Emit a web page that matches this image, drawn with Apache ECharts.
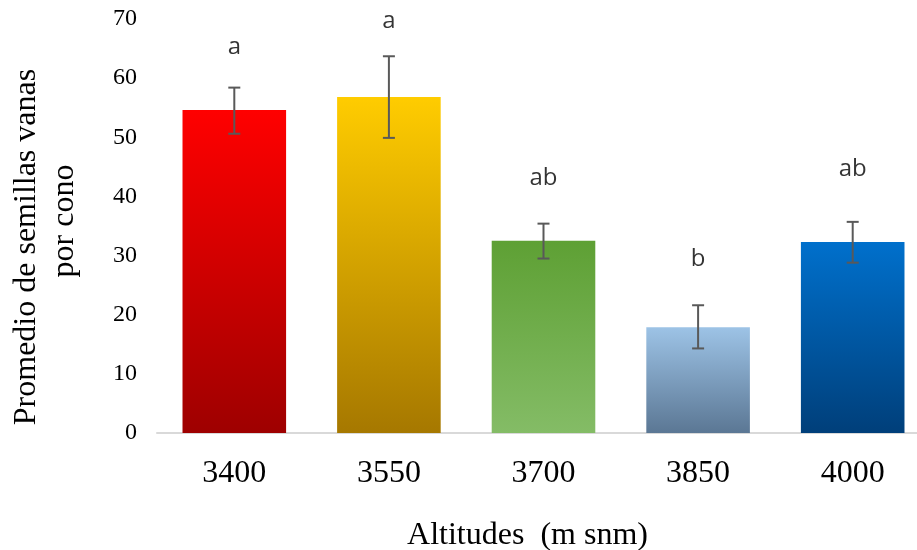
<!DOCTYPE html>
<html>
<head>
<meta charset="utf-8">
<script src="https://cdn.jsdelivr.net/npm/echarts@6/dist/echarts.min.js"></script>
<style>html,body{margin:0;padding:0;background:#fff}#c{width:917px;height:550px}</style>
</head>
<body>
<div id="c"></div>
<script>
const categories = ['3400', '3550', '3700', '3850', '4000'];
const means = [54.6, 56.8, 32.5, 17.9, 32.3];
const errLow = [50.6, 49.9, 29.5, 14.3, 28.8];
const errHigh = [58.4, 63.7, 35.4, 21.6, 35.7];
const letters = ['a', 'a', 'ab', 'b', 'ab'];
const letterY = [65.3, 69.7, 43.1, 29.4, 44.6];
const yTicks = [0, 10, 20, 30, 40, 50, 60, 70];
const yTitleLines = ['Promedio de semillas vanas', 'por cono'];
const xTitle = 'Altitudes  (m snm)';
const gradTop = ['#FF0000', '#FFCC00', '#5EA034', '#9DC3E6', '#0070CC'];
const gradBottom = ['#9E0000', '#A67800', '#84BC66', '#5B7794', '#003F7A'];

const chart = echarts.init(document.getElementById('c'));
const barData = means.map((v, i) => ({
  value: v,
  itemStyle: {
    color: new echarts.graphic.LinearGradient(0, 0, 0, 1, [
      { offset: 0, color: gradTop[i] },
      { offset: 1, color: gradBottom[i] }
    ])
  }
}));
chart.setOption({
  animation: false,
  grid: { left: 157, right: -13, top: 19, bottom: 117, outerBoundsMode: 'none', containLabel: false },
  graphic: [
    {
      type: 'text', x: 27, y: 247, rotation: Math.PI / 2,
      style: { text: yTitleLines[0], font: '32px "Liberation Serif"', fill: '#000', align: 'center', verticalAlign: 'middle' }
    },
    {
      type: 'text', x: 65, y: 221, rotation: Math.PI / 2,
      style: { text: yTitleLines[1], font: '32px "Liberation Serif"', fill: '#000', align: 'center', verticalAlign: 'middle' }
    }
  ],
  xAxis: {
    type: 'category',
    data: categories,
    axisLine: { lineStyle: { color: '#D9D9D9', width: 2 } },
    axisTick: { show: false },
    axisLabel: { fontFamily: 'Liberation Serif', fontSize: 32, color: '#000', margin: 25 },
    name: xTitle,
    nameLocation: 'middle',
    nameGap: 87,
    nameTextStyle: { fontFamily: 'Liberation Serif', fontSize: 32, color: '#000', padding: [0, 32, 0, 0] }
  },
  yAxis: {
    type: 'value',
    min: yTicks[0],
    max: yTicks[yTicks.length - 1],
    interval: 10,
    splitLine: { show: false },
    axisLine: { show: false },
    axisTick: { show: false },
    axisLabel: { fontFamily: 'Liberation Serif', fontSize: 24, color: '#000', margin: 20 }
  },
  series: [
    {
      type: 'bar',
      data: barData,
      barWidth: '67%'
    },
    {
      type: 'custom',
      data: categories.map((c, i) => [i, errLow[i], errHigh[i]]),
      z: 10,
      renderItem: function (params, api) {
        const x = api.value(0);
        const lo = api.coord([x, api.value(1)]);
        const hi = api.coord([x, api.value(2)]);
        const hw = 6;
        const st = { stroke: '#595959', lineWidth: 2 };
        return {
          type: 'group',
          children: [
            { type: 'line', shape: { x1: lo[0], y1: lo[1], x2: hi[0], y2: hi[1] }, style: st },
            { type: 'line', shape: { x1: lo[0] - hw, y1: lo[1], x2: lo[0] + hw, y2: lo[1] }, style: st },
            { type: 'line', shape: { x1: hi[0] - hw, y1: hi[1], x2: hi[0] + hw, y2: hi[1] }, style: st }
          ]
        };
      }
    },
    {
      type: 'scatter',
      data: letterY.map((v, i) => [i, v]),
      symbolSize: 1,
      itemStyle: { color: 'rgba(0,0,0,0)' },
      label: {
        show: true,
        position: 'inside',
        formatter: p => letters[p.dataIndex],
        fontFamily: 'Open Sans',
        fontSize: 24,
        color: '#000'
      }
    }
  ]
});
</script>
</body>
</html>
